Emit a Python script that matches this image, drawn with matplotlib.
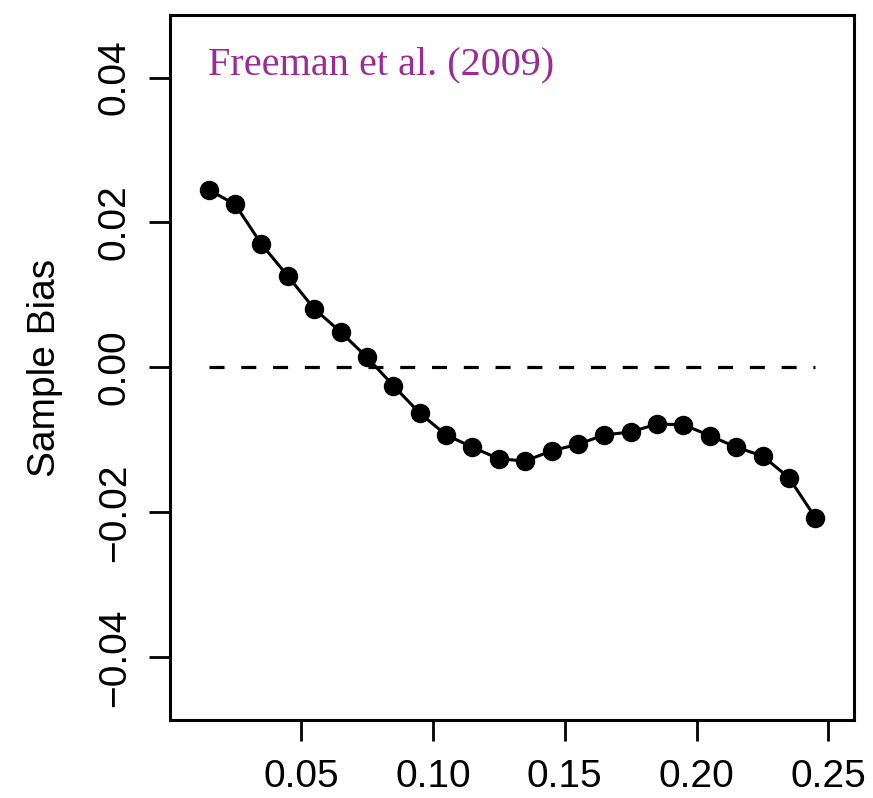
import matplotlib
matplotlib.use("Agg")
import matplotlib.pyplot as plt

# data
x = [0.015, 0.025, 0.035, 0.045, 0.055, 0.065, 0.075, 0.085,
     0.095, 0.105, 0.115, 0.125, 0.135, 0.145, 0.155, 0.165,
     0.175, 0.185, 0.195, 0.205, 0.215, 0.225, 0.235, 0.245]
bias = [0.0245, 0.0225, 0.0170, 0.0126, 0.0081, 0.0049, 0.0014, -0.0025,
        -0.0063, -0.0093, -0.0110, -0.0126, -0.0129, -0.0115, -0.0106, -0.0093,
        -0.0089, -0.0078, -0.0079, -0.0094, -0.0110, -0.0122, -0.0152, -0.0207]
x_ticks = [0.05, 0.10, 0.15, 0.20, 0.25]
y_ticks = [-0.04, -0.02, 0.00, 0.02, 0.04]
ref_x = [0.015, 0.245]
ref_y = [0.0, 0.0]
label = "Freeman et al. (2009)"

plt.rcParams['font.family'] = ['Liberation Sans', 'DejaVu Sans']

fig = plt.figure(figsize=(8.73, 7.98), dpi=100)
ax = fig.add_axes([0.195, 0.098, 0.783, 0.883])

ax.plot(ref_x, ref_y, color='black', lw=2.3, dashes=(4.7, 5.25))
ax.plot(x, bias, color='black', lw=2.2, marker='o', markersize=13)

ax.set_xlim(0.0004, 0.2596)
ax.set_ylim(-0.0486, 0.0486)
ax.set_xticks(x_ticks)
ax.set_xticklabels(["%.2f" % v for v in x_ticks])
ax.set_yticks(y_ticks)
ax.set_yticklabels(["%.2f" % v if v >= 0 else "\u2212%.2f" % -v for v in y_ticks],
                   rotation=90, va='center')

ax.tick_params(axis='both', labelsize=28, width=2, length=15, direction='out')
ax.tick_params(axis='x', pad=13)
ax.tick_params(axis='y', pad=12)
for s in ax.spines.values():
    s.set_linewidth(2.2)

ax.set_ylabel("Sample Bias", fontsize=28, labelpad=24)

ax.text(0.055, 0.955, label, transform=ax.transAxes, color='#9A2C98',
        fontsize=29, family='Liberation Serif', va='top', ha='left')

fig.savefig("out.png", dpi=100)
